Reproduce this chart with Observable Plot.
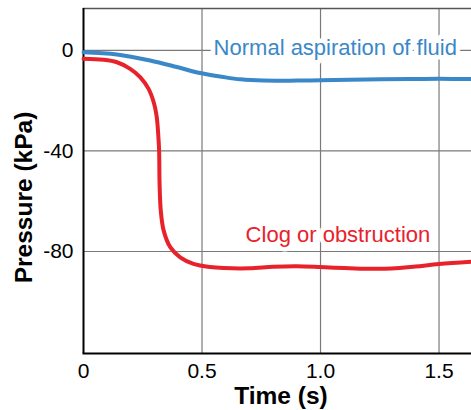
<!DOCTYPE html>
<html><head><meta charset="utf-8">
<script src="https://cdn.jsdelivr.net/npm/d3@7"></script>
<script src="https://cdn.jsdelivr.net/npm/@observablehq/plot@0.6"></script>
<style>body{margin:0;background:#fff}</style>
</head><body><div id="chart"></div>
<script>
// Normal aspiration of fluid
const normalTime     = [0,    0.141, 0.281, 0.394, 0.492, 0.591, 0.662, 0.76,  0.9,   1.0,   1.12,  1.253, 1.38,  1.5,   1.637];
const normalPressure = [-0.7, -1.6,  -4.0,  -6.6,  -9.0,  -10.6, -11.5, -12.0, -12.0, -11.9, -11.7, -11.5, -11.4, -11.3, -11.4];
// Clog or obstruction
const clogTime     = [0,    0.084, 0.141, 0.197, 0.239, 0.274, 0.298, 0.309, 0.316, 0.319, 0.321, 0.326, 0.338, 0.366, 0.408, 0.464, 0.535, 0.591, 0.7,   0.8,   0.9,   1.0,   1.1,   1.2,   1.3,   1.4,   1.5,   1.637];
const clogPressure = [-3.3, -3.7,  -4.7,  -7.3,  -10.6, -15.2, -21.2, -26.5, -34.5, -39.8, -53.1, -63.7, -71.6, -78.3, -82.3, -84.9, -86.2, -86.6, -86.7, -86.1, -85.9, -86.2, -86.6, -86.9, -86.8, -86.0, -85.0, -84.1];

const xTicks = [0, 0.5, 1.0, 1.5];
const xTickLabels = ["0", "0.5", "1.0", "1.5"];
const yTicks = [0, -40, -80];
const yTickLabels = ["0", "-40", "-80"];

const seriesNames = ["Normal aspiration of fluid", "Clog or obstruction"];
const xTitle = "Time (s)";
const yTitle = "Pressure (kPa)";

const blue = "#3a88c8";
const red = "#e8222b";
const gridColor = "#7a7a7a";

const normal = normalTime.map((t, i) => ({t, p: normalPressure[i]}));
const clog = clogTime.map((t, i) => ({t, p: clogPressure[i]}));

const chart = Plot.plot({
  width: 471,
  height: 410,
  marginLeft: 83,
  marginTop: 8,
  marginBottom: 57,
  marginRight: 0,
  style: {fontFamily: "'Liberation Sans', Arial, Helvetica, sans-serif", background: "white", overflow: "visible"},
  x: {domain: [0, 1.637]},
  y: {domain: [-120.6, 16.7]},
  marks: [
    Plot.gridX(xTicks.filter(d => d > 0), {stroke: gridColor, strokeOpacity: 1, strokeWidth: 1.2}),
    Plot.gridY(yTicks, {stroke: gridColor, strokeOpacity: 1, strokeWidth: 1.2}),
    Plot.frame({anchor: "top", stroke: "#555", strokeWidth: 1.5}),
    Plot.frame({anchor: "bottom", stroke: "black", strokeWidth: 2}),
    Plot.ruleX([0], {stroke: "black", strokeWidth: 2}),
    Plot.axisX(xTicks, {tickSize: 0, tickPadding: 10, fontSize: 21, label: null,
      tickFormat: d => xTickLabels[xTicks.indexOf(d)]}),
    Plot.axisY(yTicks, {tickSize: 0, tickPadding: 10, fontSize: 21, label: null,
      tickFormat: d => yTickLabels[yTicks.indexOf(d)]}),
    Plot.line(normal, {x: "t", y: "p", stroke: blue, strokeWidth: 4, curve: "catmull-rom"}),
    Plot.line(clog, {x: "t", y: "p", stroke: red, strokeWidth: 4, curve: "catmull-rom"}),
    Plot.text([seriesNames[0]], {x: 0.549, y: -2.0, text: d => d, textAnchor: "start", lineAnchor: "bottom",
      fill: blue, stroke: "white", strokeWidth: 9, fontSize: 22}),
    Plot.text([seriesNames[1]], {x: 0.684, y: -76.3, text: d => d, textAnchor: "start", lineAnchor: "bottom",
      fill: red, stroke: "white", strokeWidth: 9, fontSize: 22}),
    Plot.text([xTitle], {frameAnchor: "bottom", text: d => d, textAnchor: "middle", lineAnchor: "bottom", dx: 3.5, dy: 50,
      fontSize: 24.5, fontWeight: "bold", fill: "black"}),
    Plot.text([yTitle], {frameAnchor: "left", text: d => d, rotate: -90, textAnchor: "middle", lineAnchor: "bottom", dx: -51.3, dy: 16.5,
      fontSize: 24.5, fontWeight: "bold", fill: "black"})
  ]
});
document.getElementById("chart").appendChild(chart);
</script>
</body></html>
